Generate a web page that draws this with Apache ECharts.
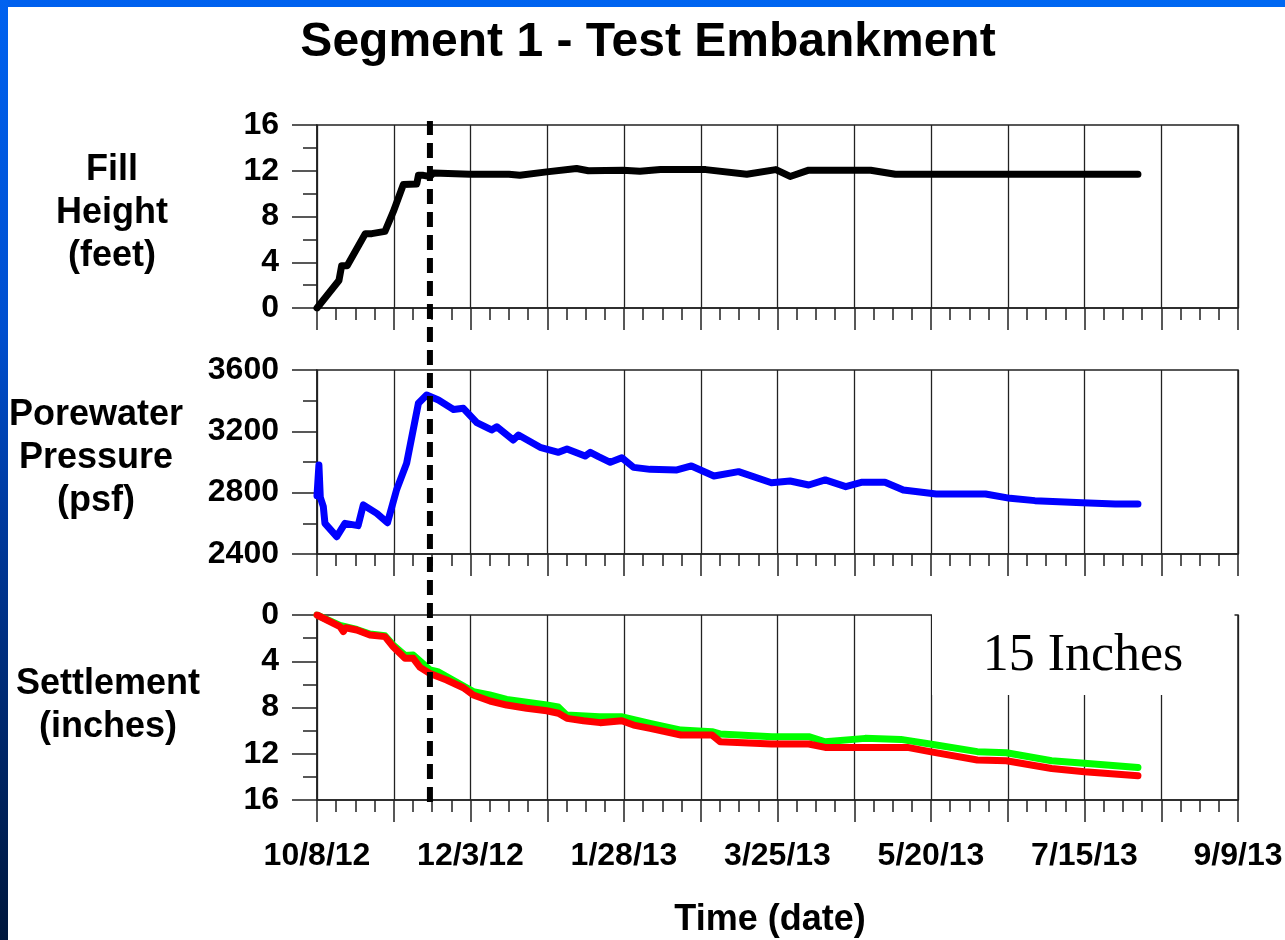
<!DOCTYPE html>
<html>
<head>
<meta charset="utf-8">
<script src="https://cdn.jsdelivr.net/npm/echarts@6/dist/echarts.min.js"></script>
<style>
  html, body { margin: 0; padding: 0; background: #fff; }
  #chart { width: 1285px; height: 940px; }
</style>
</head>
<body>
<div id="chart"></div>
<script>
// x values are days since 10/8/12
var dateLabels = ['10/8/12', '12/3/12', '1/28/13', '3/25/13', '5/20/13', '7/15/13', '9/9/13'];

var fillDays = [0, 8, 9, 11, 17.6, 20, 24.8, 27.8, 31.5, 36.4, 37, 38.8, 41.2, 42.5, 55.8, 70, 74, 83.8, 94.7, 99, 111.6, 117.8, 125.3, 141.8, 156.8, 167.4, 172.6, 179.4, 202, 211, 299.5];
var fillHeight = [0, 2.4, 3.7, 3.7, 6.5, 6.5, 6.7, 8.4, 10.8, 10.85, 11.6, 11.6, 11.5, 11.8, 11.7, 11.7, 11.6, 11.9, 12.2, 12.0, 12.05, 11.95, 12.1, 12.1, 11.7, 12.1, 11.5, 12.05, 12.05, 11.7, 11.7];

var poreDays = [0, 0.7, 1.2, 2.3, 2.9, 7.2, 10.2, 15, 16.9, 21.8, 25.7, 29, 32.7, 37, 40, 44.3, 49.8, 53.4, 58.3, 63.7, 65.6, 71.6, 73.5, 81.4, 88.1, 91.2, 97.8, 99.7, 102.7, 107, 111.2, 115.5, 121.5, 131.3, 136.6, 144.8, 153.8, 165.8, 172.6, 179.4, 185.4, 192.9, 198.9, 207.2, 213.9, 225.9, 243.9, 252.9, 261.9, 279.2, 291.2, 299.5];
var porePsf = [2780, 2980, 2770, 2710, 2600, 2513, 2600, 2585, 2720, 2665, 2604, 2817, 2992, 3383, 3437, 3404, 3343, 3350, 3257, 3209, 3230, 3143, 3176, 3096, 3063, 3085, 3039, 3063, 3035, 2998, 3028, 2965, 2952, 2948, 2974, 2909, 2937, 2865, 2876, 2850, 2883, 2839, 2868, 2868, 2817, 2791, 2791, 2763, 2748, 2735, 2726, 2726];

var redDays = [0, 8.4, 9.6, 10.5, 14.5, 19.3, 24.8, 27.8, 32.1, 35.1, 37.6, 41.2, 47.3, 53.4, 57, 63.1, 69.2, 76.5, 83.8, 88.1, 91.2, 97.2, 103.3, 111.2, 115.5, 121.5, 132.8, 144.1, 147.1, 165.8, 179.4, 185.4, 215.4, 223.6, 240.9, 251.5, 268, 280, 299.5];
var redSettle = [0, 1.0, 1.44, 1.1, 1.3, 1.73, 1.87, 2.74, 3.75, 3.75, 4.53, 5.05, 5.62, 6.29, 6.92, 7.44, 7.79, 8.07, 8.28, 8.5, 8.94, 9.14, 9.31, 9.14, 9.52, 9.8, 10.38, 10.38, 10.96, 11.16, 11.16, 11.45, 11.45, 11.82, 12.54, 12.6, 13.27, 13.55, 13.9];

var greenDays = [0, 8.4, 14.5, 19.3, 24.8, 27.8, 32.1, 35.1, 41.2, 44, 57, 63, 69.2, 83.8, 88, 91, 103, 111, 121.5, 132.8, 144.1, 147, 166, 179.4, 185.4, 200, 213, 223.6, 240.9, 251.5, 268, 280, 299.5];
var greenSettle = [0, 0.9, 1.25, 1.65, 1.8, 2.6, 3.5, 3.46, 4.75, 4.9, 6.63, 6.92, 7.3, 7.79, 7.95, 8.65, 8.8, 8.8, 9.37, 9.95, 10.09, 10.29, 10.52, 10.52, 10.96, 10.67, 10.76, 11.16, 11.82, 11.91, 12.6, 12.83, 13.18];

// dashed marker: end of filling
var markerDay = 41.2;

function pairs(xs, ys) {
    return xs.map(function (x, i) { return [x, ys[i]]; });
}

var axisCol = '#222222';
var font = 'Liberation Sans, Arial, sans-serif';

function makeX(idx, showLabel) {
    return {
        gridIndex: idx,
        type: 'value',
        min: 0, max: 336, interval: 28,
        axisLine: { show: true, onZero: false, lineStyle: { color: axisCol, width: 1.5 } },
        axisTick: { show: true, length: 22, lineStyle: { color: axisCol, width: 1.5 } },
        minorTick: { show: true, splitNumber: 4, length: 12, lineStyle: { color: axisCol, width: 1.5 } },
        splitLine: { show: true, lineStyle: { color: axisCol, width: 1.3 } },
        minorSplitLine: { show: false },
        axisLabel: {
            show: showLabel,
            margin: 40,
            color: '#000',
            fontFamily: font,
            fontWeight: 'bold',
            fontSize: 32,
            formatter: function (v) { return v % 56 === 0 ? dateLabels[v / 56] : ''; }
        }
    };
}

function makeY(idx, min, max, interval, inverse) {
    return {
        gridIndex: idx,
        type: 'value',
        min: min, max: max, interval: interval,
        inverse: !!inverse,
        axisLine: { show: true, lineStyle: { color: axisCol, width: 1.5 } },
        axisTick: { show: true, length: 25, lineStyle: { color: axisCol, width: 1.5 } },
        minorTick: { show: true, splitNumber: 2, length: 14, lineStyle: { color: axisCol, width: 1.5 } },
        splitLine: { show: false },
        axisLabel: {
            margin: 38, color: '#000', fontFamily: font, fontWeight: 'bold', fontSize: 32,
            formatter: function (v) { return String(v); }
        }
    };
}

var gridBase = { left: 317, right: 47, show: true, borderColor: axisCol, borderWidth: 1.5, backgroundColor: 'transparent', outerBoundsMode: 'none' };

var myChart = echarts.init(document.getElementById('chart'));

var option = {
    animation: false,
    backgroundColor: '#ffffff',
    grid: [
        Object.assign({}, gridBase, { top: 125, height: 183 }),
        Object.assign({}, gridBase, { top: 370, height: 184 }),
        Object.assign({}, gridBase, { top: 615, height: 185 }),
        { left: 317, right: 47, top: 121, height: 681, show: false, outerBoundsMode: 'none' }
    ],
    xAxis: [
        makeX(0, false),
        makeX(1, false),
        makeX(2, true),
        { gridIndex: 3, type: 'value', min: 0, max: 336, show: false }
    ],
    yAxis: [
        makeY(0, 0, 16, 4),
        makeY(1, 2400, 3600, 400),
        makeY(2, 0, 16, 4, true),
        { gridIndex: 3, type: 'value', min: 0, max: 1, show: false }
    ],
    series: [
        {
            name: 'Fill Height', type: 'line', xAxisIndex: 0, yAxisIndex: 0,
            data: pairs(fillDays, fillHeight), showSymbol: false,
            lineStyle: { color: '#000000', width: 7, cap: 'round', join: 'round' }
        },
        {
            name: 'Porewater Pressure', type: 'line', xAxisIndex: 1, yAxisIndex: 1,
            data: pairs(poreDays, porePsf), showSymbol: false,
            lineStyle: { color: '#0000ff', width: 7, cap: 'round', join: 'round' }
        },
        {
            name: 'Settlement 2', type: 'line', xAxisIndex: 2, yAxisIndex: 2,
            data: pairs(greenDays, greenSettle), showSymbol: false,
            lineStyle: { color: '#00ff00', width: 7, cap: 'round', join: 'round' }
        },
        {
            name: 'Settlement 1', type: 'line', xAxisIndex: 2, yAxisIndex: 2,
            data: pairs(redDays, redSettle), showSymbol: false,
            lineStyle: { color: '#ff0000', width: 7, cap: 'round', join: 'round' }
        },
        {
            name: 'marker', type: 'line', xAxisIndex: 3, yAxisIndex: 3, z: 10,
            data: [[markerDay, 0], [markerDay, 1]], showSymbol: false,
            lineStyle: { color: '#000000', width: 6, type: [15, 8] }
        }
    ],
    graphic: [
        {
            type: 'rect', z: 200, shape: { x: 0, y: 0, width: 1285, height: 7 },
            style: { fill: new echarts.graphic.LinearGradient(0, 0, 1, 0, [
                { offset: 0, color: '#0060ee' }, { offset: 1, color: '#0068f2' }]) }
        },
        {
            type: 'rect', z: 201, shape: { x: 0, y: 0, width: 8, height: 940 },
            style: { fill: new echarts.graphic.LinearGradient(0, 0, 0, 1, [
                { offset: 0, color: '#0062f0' },
                { offset: 0.35, color: '#004fcf' },
                { offset: 0.55, color: '#003a9e' },
                { offset: 0.75, color: '#002a72' },
                { offset: 1, color: '#00173c' }]) }
        },
        {
            type: 'text', x: 648, y: 43, z: 200,
            style: { text: 'Segment 1 - Test Embankment', fill: '#000', font: 'bold 48px ' + font, align: 'center', verticalAlign: 'middle' }
        },
        {
            type: 'text', x: 112, y: 213, z: 200,
            style: { text: 'Fill\nHeight\n(feet)', fill: '#000', font: 'bold 36px ' + font, lineHeight: 43, align: 'center', verticalAlign: 'middle' }
        },
        {
            type: 'text', x: 96, y: 458, z: 200,
            style: { text: 'Porewater\nPressure\n(psf)', fill: '#000', font: 'bold 36px ' + font, lineHeight: 43, align: 'center', verticalAlign: 'middle' }
        },
        {
            type: 'text', x: 108, y: 706, z: 200,
            style: { text: 'Settlement\n(inches)', fill: '#000', font: 'bold 36px ' + font, lineHeight: 43, align: 'center', verticalAlign: 'middle' }
        },
        {
            type: 'text', x: 770, y: 920, z: 200,
            style: { text: 'Time (date)', fill: '#000', font: 'bold 36px ' + font, align: 'center', verticalAlign: 'middle' }
        },
        {
            type: 'rect', z: 150, shape: { x: 932, y: 611, width: 302.5, height: 84 },
            style: { fill: '#ffffff' }
        },
        {
            type: 'text', x: 1083, y: 656, z: 160,
            style: { text: '15 Inches', fill: '#000', font: '52px Liberation Serif, Times New Roman, serif', align: 'center', verticalAlign: 'middle' }
        }
    ]
};

myChart.setOption(option);
</script>
</body>
</html>
